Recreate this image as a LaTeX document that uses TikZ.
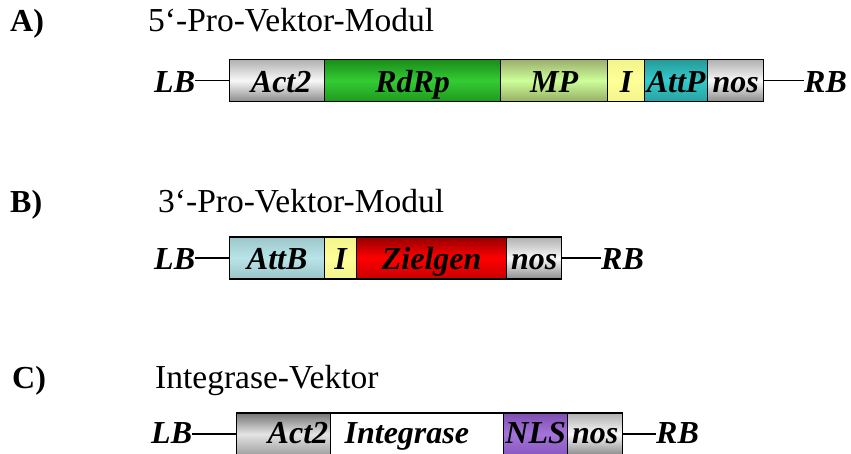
\documentclass[tikz,border=0pt]{standalone}
\usepackage{fontspec}
\setmainfont{Liberation Serif}
\definecolor{gTop}{HTML}{B0B0B0}\definecolor{gMid}{HTML}{F8F8F8}\definecolor{gBot}{HTML}{8C8C8C}
\definecolor{rdTop}{HTML}{1A8C1A}\definecolor{rdMid}{HTML}{33CC33}\definecolor{rdBot}{HTML}{1F991F}
\definecolor{mpTop}{HTML}{9CAE6E}\definecolor{mpMid}{HTML}{CCFF99}\definecolor{mpBot}{HTML}{98AE66}
\definecolor{iTop}{HTML}{F4F48C}\definecolor{iMid}{HTML}{FFFF99}
\definecolor{apTop}{HTML}{289898}\definecolor{apMid}{HTML}{33CCCC}\definecolor{apBot}{HTML}{2AA0A0}
\definecolor{abTop}{HTML}{9CC6CA}\definecolor{abMid}{HTML}{B8E4E8}\definecolor{abBot}{HTML}{9CC4C8}
\definecolor{zTop}{HTML}{960000}\definecolor{zMid}{HTML}{FF0000}\definecolor{zBot}{HTML}{C80000}
\definecolor{cgTop}{HTML}{747474}\definecolor{cgMid}{HTML}{E4E4E4}\definecolor{cgBot}{HTML}{A0A0A0}
\definecolor{nlTop}{HTML}{7E4EB0}\definecolor{nlMid}{HTML}{A474DA}\definecolor{nlBot}{HTML}{8858C0}
\tikzset{
  seg/.style={draw=black, line width=1.3pt, rectangle, inner sep=0pt, anchor=west,
    minimum height=42pt, font=\fontsize{32}{33}\selectfont\bfseries\itshape, text depth=0pt},
  greyseg/.style={seg, top color=gTop, bottom color=gBot, middle color=gMid},
  endlabel/.style={anchor=base west, inner sep=0pt, font=\fontsize{32}{33}\selectfont\bfseries\itshape},
  head/.style={anchor=base west, inner sep=0pt, font=\fontsize{33.5}{35}\selectfont},
  headletter/.style={anchor=base west, inner sep=0pt, font=\fontsize{32}{33}\selectfont\bfseries},
  link/.style={line width=1.8pt}
}
\begin{document}
\begin{tikzpicture}[x=1pt,y=-1pt]
\useasboundingbox (0,0) rectangle (851,454);
% ---- A ----
\node[headletter] (hA) at (10,32) {A)};
\node[head] (tA) at (148,32) {5‘-Pro-Vektor-Modul};
\begin{scope}[every node/.append style={text height=25pt}]
\node[greyseg, minimum width=95pt] (actA) at (229,80.5) {\hspace*{8pt}Act2};
\node[seg, minimum width=176pt, top color=rdTop, bottom color=rdBot, middle color=rdMid] (rdA) at (324,80.5) {RdRp};
\node[seg, minimum width=107pt, top color=mpTop, bottom color=mpBot, middle color=mpMid] (mpA) at (500,80.5) {MP};
\node[seg, minimum width=37pt, top color=iTop, bottom color=iTop, middle color=iMid] (iA) at (607,80.5) {I};
\node[seg, minimum width=63pt, top color=apTop, bottom color=apBot, middle color=apMid] (apA) at (644,80.5) {AttP};
\node[greyseg, minimum width=56pt] (nosA) at (707,80.5) {nos};
\end{scope}
\node[endlabel] (lbA) at (154,93) {LB};
\node[endlabel] (rbA) at (804,93) {RB};
\draw[link] (lbA.east |- actA.west) -- (actA.west);
\draw[link] (nosA.east) -- (rbA.west |- nosA.east);
% ---- B ----
\node[headletter] (hB) at (10,213) {B)};
\node[head] (tB) at (158,213) {3‘-Pro-Vektor-Modul};
\begin{scope}[every node/.append style={text height=24pt}]
\node[seg, minimum width=95pt, top color=abTop, bottom color=abBot, middle color=abMid] (abB) at (229,258) {AttB};
\node[seg, minimum width=32pt, top color=iTop, bottom color=iTop, middle color=iMid] (iB) at (324,258) {I};
\node[seg, minimum width=150pt, top color=zTop, bottom color=zBot, middle color=zMid] (zB) at (356,258) {Zielgen};
\node[greyseg, minimum width=55pt] (nosB) at (506,258) {nos};
\end{scope}
\node[endlabel] (lbB) at (154,270) {LB};
\node[endlabel] (rbB) at (601,270) {RB};
\draw[link] (lbB.east |- abB.west) -- (abB.west);
\draw[link] (nosB.east) -- (rbB.west |- nosB.east);
% ---- C ----
\node[headletter] (hC) at (12,388) {C)};
\node[head] (tC) at (155,388) {Integrase-Vektor};
\begin{scope}[every node/.append style={text height=18pt}]
\node[seg, text width=89pt, inner xsep=2.5pt, align=right, top color=cgTop, bottom color=cgBot, middle color=cgMid] (actC) at (236,434) {Act2};
\node[seg, text width=165pt, inner xsep=4pt, align=left, fill=white] (intC) at (330,434) {\hspace*{10pt}Integrase};
\node[seg, minimum width=64pt, top color=nlTop, bottom color=nlBot, middle color=nlMid] (nlC) at (503,434) {NLS};
\node[seg, minimum width=55pt, top color=gTop, bottom color=gBot, middle color=gMid] (nosC) at (567,434) {nos};
\end{scope}
\node[endlabel] (lbC) at (151,443) {LB};
\node[endlabel] (rbC) at (656,443) {RB};
\draw[link] (lbC.east |- actC.west) -- (actC.west);
\draw[link] (nosC.east) -- (rbC.west |- nosC.east);
\end{tikzpicture}
\end{document}
